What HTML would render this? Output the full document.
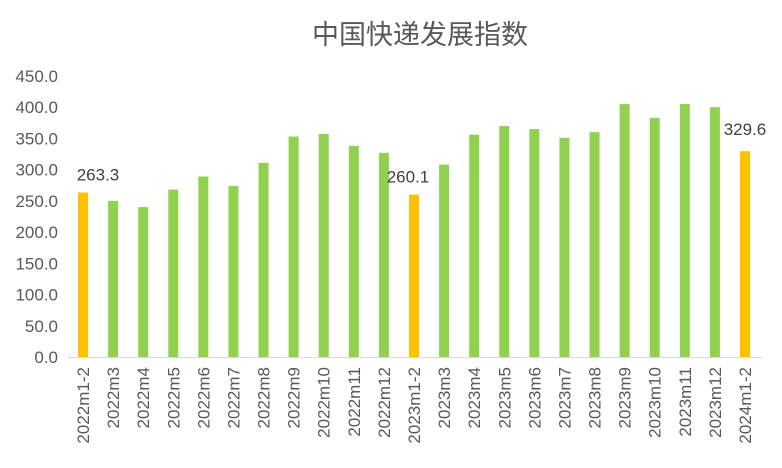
<!DOCTYPE html>
<html><head><meta charset="utf-8"><style>
body{margin:0;background:#fff;}
svg text{font-family:"Liberation Sans","Noto Sans CJK SC",sans-serif;}
</style></head><body>
<svg id="chart" width="782" height="463">
<text x="420" y="44" font-size="27" fill="#595959" text-anchor="middle">中国快递发展指数</text>
<g id="yaxis"></g><g id="bars"></g><g id="xlabels"></g>
<line x1="68" y1="357.5" x2="762" y2="357.5" stroke="#d9d9d9" stroke-width="1"/>
</svg>
<script>
const categories=["2022m1-2","2022m3","2022m4","2022m5","2022m6","2022m7","2022m8","2022m9","2022m10","2022m11","2022m12","2023m1-2","2023m3","2023m4","2023m5","2023m6","2023m7","2023m8","2023m9","2023m10","2023m11","2023m12","2024m1-2"];
const values=[263.3,250,240,268,289,274,311,353,357,338,327,260.1,308,356,370,365,351,360,405,383,405,400,329.6];
const highlighted=[true,false,false,false,false,false,false,false,false,false,false,true,false,false,false,false,false,false,false,false,false,false,true];
const yTicks=[0,50,100,150,200,250,300,350,400,450];
const NS="http://www.w3.org/2000/svg";
const y0=357,y1=76,yMax=450;
const y=v=>y0-(v/yMax)*(y0-y1);
const x=i=>83+i*(745-83)/(categories.length-1);
const ya=document.getElementById('yaxis'),bg=document.getElementById('bars'),xl=document.getElementById('xlabels');
yTicks.forEach(t=>{
 const e=document.createElementNS(NS,'text');
 
 
 e.setAttribute('x',58);e.setAttribute('y',y(t)+6);e.setAttribute('font-size','17');e.setAttribute('fill','#595959');e.setAttribute('text-anchor','end');
 e.textContent=t.toFixed(1);ya.appendChild(e);
});
const labelDx=[15,-6,0];
let h=0;
values.forEach((v,i)=>{
 const r=document.createElementNS(NS,'rect');
 
 
 r.setAttribute('x',x(i)-5);r.setAttribute('y',y(v));r.setAttribute('width',10);r.setAttribute('height',y0-y(v));
 r.setAttribute('fill',highlighted[i]?'#ffc000':'#92d050');bg.appendChild(r);
 if(highlighted[i]){
  const l=document.createElementNS(NS,'text');
  
  
  l.setAttribute('x',x(i)+labelDx[h]);l.setAttribute('y',y(v)-(i===categories.length-1?16:12));
  l.setAttribute('font-size','17');l.setAttribute('fill','#404040');l.setAttribute('text-anchor','middle');
  l.textContent=v.toFixed(1);bg.appendChild(l);
  h++;
 }
 const t=document.createElementNS(NS,'text');
 
 
 t.setAttribute('transform','translate('+(x(i)+6)+',367) rotate(-90)');
 t.setAttribute('font-size','17');t.setAttribute('fill','#595959');t.setAttribute('text-anchor','end');
 t.textContent=categories[i];xl.appendChild(t);
});
</script>
</body></html>
